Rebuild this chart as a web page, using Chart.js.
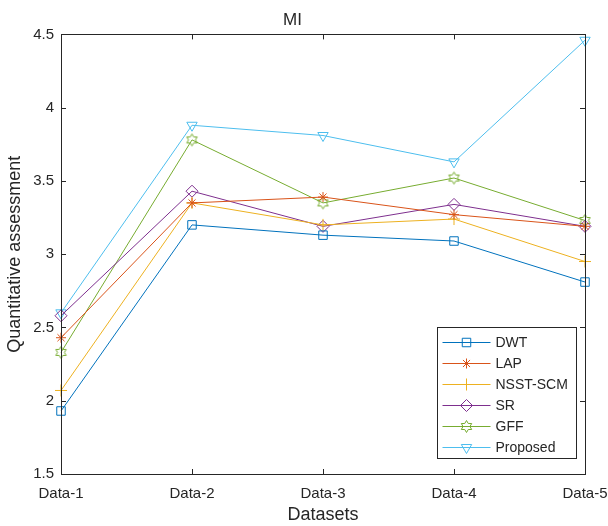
<!DOCTYPE html>
<html>
<head>
<meta charset="utf-8">
<script src="https://cdn.jsdelivr.net/npm/chart.js@4/dist/chart.umd.min.js"></script>
<style>
    html, body { margin: 0; padding: 0; background: #fff; }
    #wrap { width: 608px; height: 526px; }
</style>
</head>
<body>
<div id="wrap"><canvas id="myChart" width="608" height="526"></canvas></div>
<script>
const categories = ['Data-1', 'Data-2', 'Data-3', 'Data-4', 'Data-5'];
const yTicks = [1.5, 2, 2.5, 3, 3.5, 4, 4.5];

const dwt = [1.93, 3.20, 3.13, 3.09, 2.81];
const lap = [2.43, 3.35, 3.39, 3.27, 3.19];
const nsstScm = [2.07, 3.35, 3.20, 3.24, 2.95];
const sr = [2.58, 3.43, 3.19, 3.34, 3.19];
const gff = [2.33, 3.78, 3.35, 3.52, 3.23];
const proposed = [2.60, 3.88, 3.81, 3.63, 4.46];

const FONT = '"Liberation Sans", Arial, Helvetica, sans-serif';
const INK = '#262626';

// hexagram marker for GFF, chart.js has none
function makeHexagram(color) {
    const c = document.createElement('canvas');
    c.width = 15;
    c.height = 15;
    const g = c.getContext('2d');
    const cx = 7.5, cy = 7.5, r = 6;
    g.strokeStyle = color;
    g.lineWidth = 1;
    g.beginPath();
    for (let i = 0; i < 12; i++) {
        const a = -Math.PI / 2 + i * Math.PI / 6;
        const rr = i % 2 === 0 ? r : r * 0.58;
        const px = cx + rr * Math.cos(a);
        const py = cy + rr * Math.sin(a);
        if (i === 0) g.moveTo(px, py);
        else g.lineTo(px, py);
    }
    g.closePath();
    g.stroke();
    return c;
}

function series(label, data, color, style, extra = {}) {
    return {
        label: label,
        data: data,
        borderColor: color,
        backgroundColor: color,
        pointBorderColor: color,
        pointBackgroundColor: 'rgba(0,0,0,0)',
        borderWidth: 1,
        pointBorderWidth: 1,
        pointStyle: style,
        pointRadius: 5,
        pointHoverRadius: 5,
        tension: 0,
        ...extra,
    };
}

const boxPlugin = {
    id: 'matlabBox',
    afterDraw(chart) {
        const { ctx, chartArea: a, scales } = chart;
        ctx.save();
        ctx.strokeStyle = INK;
        ctx.lineWidth = 1;
        ctx.strokeRect(Math.round(a.left) + 0.5, Math.round(a.top) + 0.5,
            Math.round(a.right - a.left), Math.round(a.bottom - a.top));
        const t = 5;
        ctx.beginPath();
        scales.x.ticks.forEach((tk, i) => {
            const x = Math.round(scales.x.getPixelForTick(i)) + 0.5;
            ctx.moveTo(x, a.bottom); ctx.lineTo(x, a.bottom - t);
            ctx.moveTo(x, a.top); ctx.lineTo(x, a.top + t);
        });
        scales.y.ticks.forEach((tk, i) => {
            const y = Math.round(scales.y.getPixelForTick(i)) + 0.5;
            ctx.moveTo(a.left, y); ctx.lineTo(a.left + t, y);
            ctx.moveTo(a.right, y); ctx.lineTo(a.right - t, y);
        });
        ctx.stroke();

        // legend inside the axes, bottom right
        const sets = chart.data.datasets;
        const rowH = 21;
        const boxW = 139;
        const boxH = sets.length * rowH + 5;
        const bx = Math.round(a.right - 9 - boxW) + 0.5;
        const by = Math.round(a.bottom - 16 - boxH) + 0.5;
        ctx.fillStyle = '#fff';
        ctx.fillRect(bx, by, boxW, boxH);
        ctx.strokeStyle = INK;
        ctx.strokeRect(bx, by, boxW, boxH);
        ctx.font = '14px ' + FONT;
        ctx.textBaseline = 'middle';
        sets.forEach((ds, i) => {
            const y = by + 15 + i * rowH;
            ctx.strokeStyle = ds.borderColor;
            ctx.lineWidth = 1;
            ctx.beginPath();
            ctx.moveTo(bx + 5, y);
            ctx.lineTo(bx + 53, y);
            ctx.stroke();
            ctx.fillStyle = 'rgba(0,0,0,0)';
            Chart.helpers.drawPoint(ctx, {
                pointStyle: ds.pointStyle,
                radius: ds.pointRadius,
                rotation: ds.pointRotation || 0,
                borderWidth: 1,
            }, bx + 29, y);
            ctx.fillStyle = INK;
            ctx.fillText(ds.label, bx + 58, y + 1);
        });
        ctx.restore();
    },
};

const ctx = document.getElementById('myChart');
new Chart(ctx, {
    type: 'line',
    data: {
        labels: categories,
        datasets: [
            series('DWT', dwt, '#0072BD', 'rect', { pointRadius: 6 }),
            series('LAP', lap, '#D95319', 'star'),
            series('NSST-SCM', nsstScm, '#EDB120', 'cross', { pointRadius: 6 }),
            series('SR', sr, '#7E2F8E', 'rectRot', { pointRadius: 6 }),
            series('GFF', gff, '#77AC30', makeHexagram('#77AC30')),
            series('Proposed', proposed, '#4DBEEE', 'triangle', { pointRotation: 180, pointRadius: 6 }),
        ],
    },
    options: {
        responsive: false,
        animation: false,
        events: [],
        layout: { padding: { left: 0, right: 23, top: 0, bottom: 0 } },
        plugins: {
            legend: { display: false },
            tooltip: { enabled: false },
            title: {
                display: true,
                text: 'MI',
                color: INK,
                font: { family: FONT, size: 17, weight: 'normal' },
                padding: { top: 10, bottom: 4 },
            },
        },
        scales: {
            x: {
                type: 'category',
                offset: false,
                grid: { display: false, drawTicks: false },
                border: { display: false },
                ticks: {
                    color: INK,
                    font: { family: FONT, size: 15 },
                    padding: 11,
                    maxRotation: 0,
                    autoSkip: false,
                },
                title: {
                    display: true,
                    text: 'Datasets',
                    color: INK,
                    font: { family: FONT, size: 18 },
                    padding: { top: 2, bottom: 0 },
                },
                afterFit(scale) {
                    scale.height = 52;
                    scale.paddingLeft = 0;
                    scale.paddingRight = 0;
                },
            },
            y: {
                min: 1.5,
                max: 4.5,
                grid: { display: false, drawTicks: false },
                border: { display: false },
                afterBuildTicks(scale) {
                    scale.ticks = yTicks.map((v) => ({ value: v }));
                },
                ticks: {
                    color: INK,
                    font: { family: FONT, size: 15 },
                    padding: 7,
                    callback: (v) => String(v),
                },
                title: {
                    display: true,
                    text: 'Quantitative assessment',
                    color: INK,
                    font: { family: FONT, size: 18 },
                    padding: { top: 4, bottom: 4 },
                },
                afterFit(scale) {
                    scale.width = 61;
                    scale.paddingTop = 0;
                    scale.paddingBottom = 0;
                },
            },
        },
    },
    plugins: [boxPlugin],
});
</script>
</body>
</html>
